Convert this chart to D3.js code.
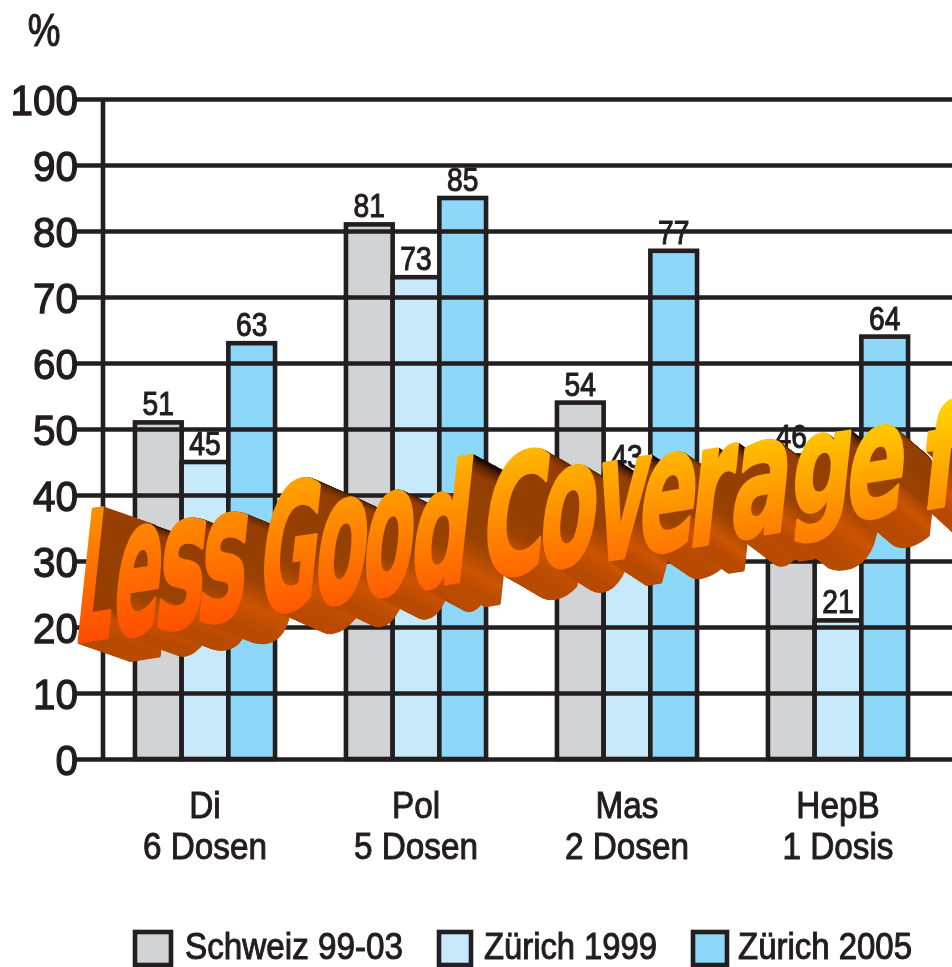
<!DOCTYPE html>
<html><head><meta charset="utf-8">
<script src="https://cdn.jsdelivr.net/npm/d3@7"></script>
<style>html,body{margin:0;padding:0;background:#fff;overflow:hidden}svg{display:block}</style>
</head><body>
<script>
const categories = ["Di","Pol","Mas","HepB"];
const doses = ["6 Dosen","5 Dosen","2 Dosen","1 Dosis"];
const seriesNames = ["Schweiz 99-03","Zürich 1999","Zürich 2005"];
const schweiz = [51,81,54,46];
const zuerich1999 = [45,73,43,21];
const zuerich2005 = [63,85,77,64];
const yTicks = [0,10,20,30,40,50,60,70,80,90,100];
const colours = ["#d1d3d4","#c7e9fa","#8dd8f8"];
const ink = "#231f20";
const font = "'Liberation Sans',sans-serif";

const W=952,H=967;
const lineW=4.6;
const svg=d3.select("body").append("svg").attr("width",W).attr("height",H);
const defs=svg.append("defs");
defs.append("filter").attr("id","soft").append("feGaussianBlur").attr("stdDeviation",0.6);
const squeeze=(sel,k)=>sel.each(function(){
  const t=d3.select(this);
  t.attr("textLength",this.getComputedTextLength()*k).attr("lengthAdjust","spacingAndGlyphs");
});

const y=d3.scaleLinear().domain([0,100]).range([759,99]);
const x0=d3.scaleBand().domain(categories).range([99.5,943.5]).paddingInner(.336).paddingOuter(.168);
const x1=d3.scaleBand().domain(seriesNames).range([0,x0.bandwidth()]);
const values=[schweiz,zuerich1999,zuerich2005];

// bars
const bars=svg.append("g");
categories.forEach((c,i)=>{
  seriesNames.forEach((s,j)=>{
    bars.append("rect").attr("x",x0(c)+x1(s)).attr("y",y(values[j][i]))
      .attr("width",x1.bandwidth()).attr("height",y(0)-y(values[j][i]))
      .attr("fill",colours[j]).attr("stroke",ink).attr("stroke-width",lineW);
  });
});
// value labels
const vl=svg.append("g").attr("filter","url(#soft)").attr("font-family",font).attr("font-size",34)
  .attr("fill",ink).attr("stroke",ink).attr("stroke-width",1.1).attr("text-anchor","middle");
categories.forEach((c,i)=>{
  seriesNames.forEach((s,j)=>{
    vl.append("text").attr("x",x0(c)+x1(s)+x1.bandwidth()/2).attr("y",y(values[j][i])-7).text(values[j][i]);
  });
});
squeeze(vl.selectAll("text"),.83);
// axis + grid
const axis=svg.append("g").attr("transform","translate(103,0)")
  .call(d3.axisLeft(y).tickValues(yTicks).tickSize(28).tickPadding(0));
axis.select(".domain").attr("d",`M0,${y(100)}V${y(0)+2}`).attr("stroke",ink).attr("stroke-width",lineW).attr("fill","none");
axis.selectAll(".tick line").attr("x1",-28).attr("x2",W-103).attr("stroke",ink).attr("stroke-width",lineW);
axis.selectAll(".tick text").attr("x",-25).attr("dy","0.35em").attr("font-family",font).attr("font-size",43)
  .attr("fill",ink).attr("stroke",ink).attr("stroke-width",1.3).attr("text-anchor","end").attr("filter","url(#soft)");
axis.attr("font-family",null).attr("font-size",null);
squeeze(axis.selectAll(".tick text"),.94);

svg.append("text").attr("x",44).attr("y",46).attr("text-anchor","middle").attr("font-family",font)
  .attr("font-size",46).attr("fill",ink).attr("stroke",ink).attr("stroke-width",1.2).attr("filter","url(#soft)").text("%")
  .call(squeeze,.8);

// category labels
const cl=svg.append("g").attr("filter","url(#soft)").attr("font-family",font).attr("font-size",37)
  .attr("fill",ink).attr("stroke",ink).attr("stroke-width",1).attr("text-anchor","middle");
categories.forEach((c,i)=>{
  const cx=x0(c)+x0.bandwidth()/2;
  cl.append("text").attr("x",cx).attr("y",818).text(c);
  cl.append("text").attr("x",cx).attr("y",859).text(doses[i]);
});
squeeze(cl.selectAll("text"),.9);

// legend
const legendSwatch=[[135,36],[439,32],[693,34]];
const legendText=[[185,218],[484,173],[738,174]];
const lg=svg.append("g");
seriesNames.forEach((s,j)=>{
  lg.append("rect").attr("x",legendSwatch[j][0]).attr("y",932).attr("width",legendSwatch[j][1]).attr("height",33)
    .attr("fill",colours[j]).attr("stroke",ink).attr("stroke-width",lineW);
  lg.append("text").attr("x",legendText[j][0]).attr("y",959).attr("font-family",font).attr("font-size",36)
    .attr("fill",ink).attr("stroke",ink).attr("stroke-width",1).attr("filter","url(#soft)")
    .attr("textLength",legendText[j][1]).attr("lengthAdjust","spacingAndGlyphs").text(s);
});

// word-art banner (decoration, one glyph at a time): char, centre x, unskewed width, top, bottom
const art=[
 ["L",100,33,506,641],["e",139,44,522,637],["s",183,44,516,630],["s",225,44,510,623],
 ["G",291,54,477,613],["o",343,49,495,605],["o",390,48,488,597],["d",442,52,458,590],
 ["C",516,58,448,577],["o",570,54,463,568],["v",622,52,458,560],["e",669,53,450,553],["r",716,39,445,545],
 ["a",761,52,438,538],["g",820,54,432,543],["e",877,54,423,519],["f",945,42,398,508]
];
const ctx=document.createElement("canvas").getContext("2d");
const artFont="'DejaVu Sans',sans-serif";
ctx.font="bold 100px "+artFont;
const front=d3.scaleLinear().domain([650,590,505,420,395]).range(["#ff4a00","#ff6000","#ff9000","#ffcc00","#ffd800"]);
const dx=d3.scaleLinear().domain([80,460,870]).range([53,40,33]);
const dy=d3.scaleLinear().domain([80,460,870]).range([18,22,28]);
const sw=3.2; // stroke width in screen pixels
const back=svg.append("g"), fore=svg.append("g");
art.forEach((a,i)=>{
  const [ch,cx,w,top,bot]=a;
  const m=ctx.measureText(ch);
  const il=-m.actualBoundingBoxLeft, ir=m.actualBoundingBoxRight, it=-m.actualBoundingBoxAscent, ib=m.actualBoundingBoxDescent;
  const sx=(w-sw)/(ir-il), sy=(bot-top-sw)/(ib-it);
  const slope=-0.16, lean=0.107;
  const a1=sx,b1=sx*slope,c1=-lean*sy,d1=sy;
  const icx=(il+ir)/2, icy=(it+ib)/2;
  const e1=cx-(a1*icx+c1*icy), f1=(top+bot)/2-(b1*icx+d1*icy);
  const id="glyph"+i;
  defs.append("text").attr("id",id).attr("font-family",artFont).attr("font-weight","bold").attr("font-size",100)
    .attr("stroke-width",sw).attr("stroke-linejoin","round").attr("vector-effect","non-scaling-stroke")
    .attr("transform",`matrix(${a1},${b1},${c1},${d1},${e1},${f1})`).text(ch);
  const gf=defs.append("linearGradient").attr("id","front"+i).attr("gradientUnits","userSpaceOnUse")
    .attr("x1",0).attr("x2",0).attr("y1",it).attr("y2",ib);
  gf.append("stop").attr("offset",0).attr("stop-color",front(top));
  gf.append("stop").attr("offset",1).attr("stop-color",front(bot));
  const gb=defs.append("linearGradient").attr("id","side"+i).attr("gradientUnits","userSpaceOnUse")
    .attr("x1",0).attr("x2",0).attr("y1",it).attr("y2",ib);
  const stops=ch==="L"?[[0,"#963f00"],[.8,"#963f00"],[.86,"#c85000"],[1,"#b84a00"]]
    :[[0,"#140600"],[.05,"#5a2600"],[.13,"#933e00"],[.6,"#984100"],[.85,"#cc5400"],[1,"#b84a00"]];
  stops.forEach(s=>gb.append("stop").attr("offset",s[0]).attr("stop-color",s[1]));
  const ddx=dx(cx),ddy=dy(cx),N=Math.ceil(Math.hypot(ddx,ddy));
  const layer=back.append("g");
  for(let k=N;k>=1;k--){
    layer.append("use").attr("href","#"+id).attr("x",ddx*k/N).attr("y",ddy*k/N)
      .attr("fill",`url(#side${i})`).attr("stroke",`url(#side${i})`);
  }
  fore.append("use").attr("href","#"+id).attr("fill",`url(#front${i})`).attr("stroke",`url(#front${i})`);
});
</script>
</body></html>
